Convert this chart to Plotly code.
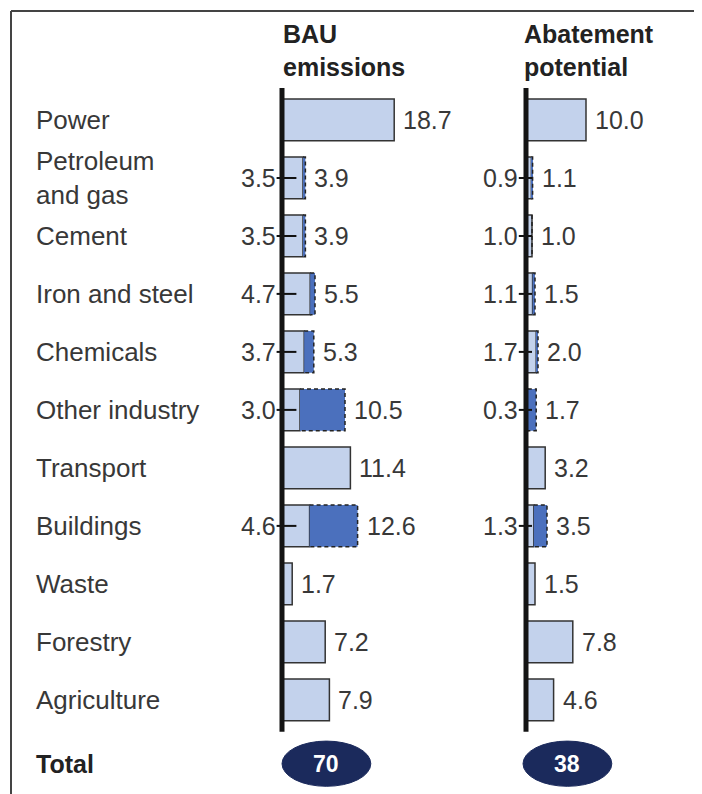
import plotly.graph_objects as go

# ---------------- data ----------------
sectors = ["Power", "Petroleum<br>and gas", "Cement", "Iron and steel", "Chemicals",
           "Other industry", "Transport", "Buildings", "Waste", "Forestry", "Agriculture"]
bau_low = [None, 3.5, 3.5, 4.7, 3.7, 3.0, None, 4.6, None, None, None]
bau_high = [18.7, 3.9, 3.9, 5.5, 5.3, 10.5, 11.4, 12.6, 1.7, 7.2, 7.9]
abat_low = [None, 0.9, 1.0, 1.1, 1.7, 0.3, None, 1.3, None, None, None]
abat_high = [10.0, 1.1, 1.0, 1.5, 2.0, 1.7, 3.2, 3.5, 1.5, 7.8, 4.6]
bau_total = 70
abat_total = 38
headers = ["BAU<br>emissions", "Abatement<br>potential"]

# ---------------- style ----------------
OFF = 8                 # page body margin of the browser
W, H = 702 - OFF, 794 - OFF
LIGHT = "#c3d2ec"
DARK = "#4b70bd"
EDGE = "#333333"
TXT = "#383838"
NAVY = "#1b2a5c"
FONT = "Liberation Sans, Arial, sans-serif"
FS_LAB = 26
FS_NUM = 25
FS_HDR = 25
BAR_W = 0.72
PXU = 6.0              # pixels per data unit on x
ROW_PX = 58.0          # pixels per row
TOP_PX = 88.0 - OFF
Y_LO, Y_HI = -0.55, 11.6
TOTAL_ROW = 11.1
XR = [-10, 22]

def px_x(p):
    return (p - OFF) / W

def px_y(p):
    return 1 - (p - OFF) / H

def xdom(zero_px):
    return [px_x(zero_px + XR[0] * PXU), px_x(zero_px + XR[1] * PXU)]

bottom_px = TOP_PX + (Y_HI - Y_LO) * ROW_PX
ydom = [1 - bottom_px / H, 1 - TOP_PX / H]

n = len(sectors)
rows = list(range(n))

fig = go.Figure()
annotations = []
shapes = []

panels = [
    dict(low=bau_low, high=bau_high, xa="x", total=bau_total, tick=(-0.9, 2.4), zero_px=282, ell=(0.0, 14.8)),
    dict(low=abat_low, high=abat_high, xa="x2", total=abat_total, tick=(-1.2, 1.0), zero_px=526, ell=(-0.5, 14.3)),
]

for p in panels:
    low, high, xa = p["low"], p["high"], p["xa"]
    light = [l if l is not None else h for l, h in zip(low, high)]
    dark_rows = [i for i in rows if low[i] is not None]
    # light bars
    fig.add_trace(go.Bar(
        x=light, y=rows, base=[0] * n, orientation="h", width=BAR_W,
        marker=dict(color=LIGHT, line=dict(color=EDGE, width=1.5)),
        xaxis=xa, yaxis="y", showlegend=False, hoverinfo="skip"))
    # dark (range) bars
    fig.add_trace(go.Bar(
        x=[high[i] - low[i] for i in dark_rows], y=dark_rows,
        base=[low[i] for i in dark_rows], orientation="h", width=BAR_W,
        marker=dict(color=DARK, line=dict(width=0)),
        xaxis=xa, yaxis="y", showlegend=False, hoverinfo="skip"))
    # dashed outline of range part
    dx, dy = [], []
    for i in dark_rows:
        dx += [low[i], high[i], high[i], low[i], None]
        dy += [i - BAR_W / 2, i - BAR_W / 2, i + BAR_W / 2, i + BAR_W / 2, None]
    fig.add_trace(go.Scatter(
        x=dx, y=dy, mode="lines", line=dict(color="#222222", width=1.5, dash="4px,3px"),
        xaxis=xa, yaxis="y", showlegend=False, hoverinfo="skip", cliponaxis=False))
    # tick marks at the low value rows
    tx, ty = [], []
    for i in dark_rows:
        tx += [p["tick"][0], p["tick"][1], None]
        ty += [i, i, None]
    fig.add_trace(go.Scatter(
        x=tx, y=ty, mode="lines", line=dict(color="#111111", width=2),
        xaxis=xa, yaxis="y", showlegend=False, hoverinfo="skip", cliponaxis=False))
    # value labels
    for i in rows:
        annotations.append(dict(
            x=high[i], y=i, xref=xa, yref="y", text=f"{high[i]:.1f}", showarrow=False,
            xanchor="left", yanchor="middle", xshift=7,
            font=dict(family=FONT, size=FS_NUM, color=TXT)))
        if low[i] is not None:
            annotations.append(dict(
                x=p["tick"][0], y=i, xref=xa, yref="y", text=f"{low[i]:.1f}", showarrow=False,
                xanchor="right", yanchor="middle", xshift=1,
                font=dict(family=FONT, size=FS_NUM, color=TXT)))
    # axis line
    shapes.append(dict(type="line", xref=xa, yref="y", x0=0, x1=0, y0=Y_LO, y1=n - 1 + 0.55,
                       line=dict(color="#141414", width=5), layer="above"))
    # total ellipse
    shapes.append(dict(type="circle", xref=xa, yref="y", x0=p["ell"][0], x1=p["ell"][1],
                       y0=TOTAL_ROW - 0.39, y1=TOTAL_ROW + 0.39,
                       fillcolor=NAVY, line=dict(color=NAVY, width=1), layer="above"))
    annotations.append(dict(
        x=(p["ell"][0] + p["ell"][1]) / 2, y=TOTAL_ROW, xref=xa, yref="y",
        text=f"<b>{p['total']}</b>", showarrow=False, xanchor="center", yanchor="middle",
        font=dict(family=FONT, size=23, color="white")))

# sector labels
for i, s in enumerate(sectors):
    annotations.append(dict(
        x=px_x(34), y=i, xref="paper", yref="y", text=s, showarrow=False,
        xanchor="left", yanchor="middle", align="left",
        font=dict(family=FONT, size=FS_LAB, color=TXT)))
annotations.append(dict(
    x=px_x(34), y=TOTAL_ROW, xref="paper", yref="y", text="<b>Total</b>", showarrow=False,
    xanchor="left", yanchor="middle", font=dict(family=FONT, size=FS_LAB - 1, color="#222222")))

# headers
for hdr, xpx in zip(headers, [281, 522]):
    annotations.append(dict(
        x=px_x(xpx), y=px_y(18), xref="paper", yref="paper", text=f"<b>{hdr}</b>",
        showarrow=False, xanchor="left", yanchor="top", align="left",
        font=dict(family=FONT, size=FS_HDR, color="#222222")))

# frame
shapes.append(dict(type="line", xref="paper", yref="paper", x0=px_x(11), x1=px_x(11), y0=0, y1=px_y(11),
                   line=dict(color="#444444", width=2)))
shapes.append(dict(type="line", xref="paper", yref="paper", x0=px_x(11), x1=1, y0=px_y(11), y1=px_y(11),
                   line=dict(color="#444444", width=2)))

ax_common = dict(range=XR, showgrid=False, zeroline=False, showticklabels=False,
                 showline=False, ticks="", anchor="y", fixedrange=True)
fig.update_layout(
    width=W, height=H, margin=dict(l=0, r=0, t=0, b=0),
    paper_bgcolor="white", plot_bgcolor="white",
    barmode="overlay", showlegend=False,
    xaxis=dict(domain=xdom(panels[0]["zero_px"]), **ax_common),
    xaxis2=dict(domain=xdom(panels[1]["zero_px"]), **ax_common),
    yaxis=dict(domain=ydom, range=[Y_HI, Y_LO], showgrid=False, zeroline=False,
               showticklabels=False, showline=False, ticks="", fixedrange=True),
    annotations=annotations, shapes=shapes,
)

fig.write_html("out.html")
